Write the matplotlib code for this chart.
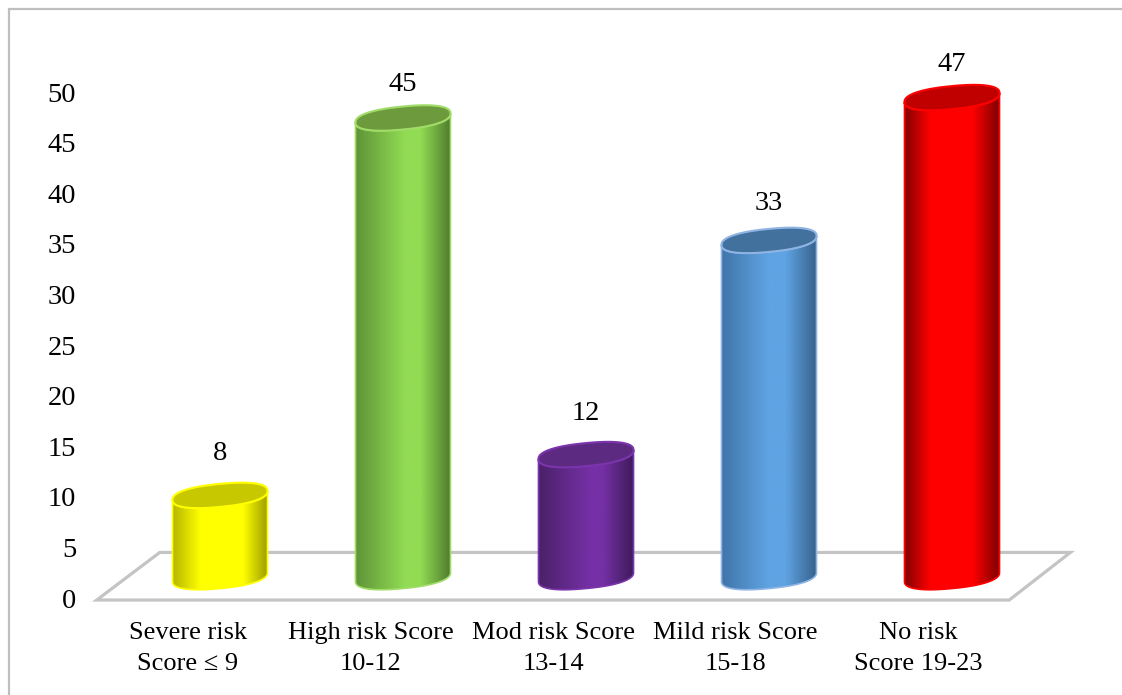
import numpy as np
import matplotlib
matplotlib.use('Agg')
import matplotlib.pyplot as plt
from matplotlib.colors import LinearSegmentedColormap
from matplotlib.patches import Polygon, Rectangle

categories = ['Severe risk\nScore ≤ 9', 'High risk Score\n10-12', 'Mod risk Score\n13-14',
              'Mild risk Score\n15-18', 'No risk\nScore 19-23']
values = [8, 45, 12, 33, 47]
y_ticks = list(range(0, 55, 5))

face_colors = ['#FFFF00', '#92DC54', '#7530A6', '#5FA3E3', '#FF0000']
left_colors = ['#B4B400', '#5F9438', '#4A2168', '#3F74A8', '#800000']
right_colors = ['#A0A000', '#4F7A2C', '#3F1C5C', '#37648F', '#800000']
top_colors = ['#C8C800', '#6C9A3C', '#5C2A80', '#41719C', '#C00000']
edge_colors = ['#FFFF00', '#A0DC68', '#7A34AC', '#8FB4E3', '#FF0000']
peak_start = [0.3, 0.52, 0.55, 0.5, 0.28]
peak_end = [0.75, 0.68, 0.68, 0.68, 0.72]

W, H = 1122, 695
plt.rcParams['font.family'] = ['Liberation Serif', 'DejaVu Serif']

fig = plt.figure(figsize=(W / 100, H / 100), dpi=100, facecolor='white')


def overlay(x0, dx, y0, dy):
    # full-figure axes where index 0 sits at x0 and value 0 at y0 (pixels from top)
    ax = fig.add_axes([0, 0, 1, 1], facecolor='none')
    ax.set_xlim(-x0 / dx, (W - x0) / dx)
    ax.set_ylim((y0 - H) / dy, y0 / dy)
    ax.patch.set_visible(False)
    for s in ax.spines.values():
        s.set_visible(False)
    ax.set_xticks([])
    ax.set_yticks([])
    return ax


# outer frame
fig.add_artist(Rectangle((8.5 / W, -0.02), W, 1 - 8.5 / H + 0.02, transform=fig.transFigure,
                         fill=False, ec='#BFBFBF', lw=1.6))

# floor and axis labels
base_ax = overlay(188, 182.5, 598, 10.12)
base_ax.add_patch(Polygon([(-0.5, -0.2), (4.5, -0.2), (4.835, 4.5), (-0.155, 4.5)], closed=True,
                          fill=False, ec='#C4C4C4', lw=2.3, joinstyle='miter'))
for t in y_ticks:
    base_ax.text(-0.613, t, str(t), ha='right', va='center_baseline', fontsize=20.5)
for i, lab in enumerate(categories):
    base_ax.text(i, -2.35, lab, ha='center', va='top', linespacing=1.55, fontsize=19)

# cylinders
bar_ax = overlay(220, 183, 577, 10.2)
xl, yl = bar_ax.get_xlim(), bar_ax.get_ylim()
a, b, rise = 47.5, 11.5, 4.5


def ring(t):
    # slightly squared ellipse, sheared so the right end sits higher than the left
    c, s = np.cos(t), np.sin(t)
    px = a * np.sign(c) * np.abs(c) ** 0.85
    py = b * np.sign(s) * np.abs(s) ** 0.85 + rise * px / a
    return px / 183, py / 10.2


half = np.linspace(np.pi, 2 * np.pi, 80)
full = np.linspace(0, 2 * np.pi, 160)
for i, v in enumerate(values):
    hx, hy = ring(half)
    outline = np.vstack([np.c_[i + hx, hy], np.c_[i + hx[::-1], v + hy[::-1]]])
    body = Polygon(outline, closed=True, fc='none', ec=edge_colors[i], lw=1.2, zorder=3)
    bar_ax.add_patch(body)
    cmap = LinearSegmentedColormap.from_list('shade', [(0, left_colors[i]), (peak_start[i], face_colors[i]),
                                                       (peak_end[i], face_colors[i]), (1, right_colors[i])])
    half_w = a / 183
    im = bar_ax.imshow(np.linspace(0, 1, 256)[None, :], cmap=cmap, aspect='auto', zorder=2,
                       extent=(i - half_w, i + half_w, -3, v + 3))
    im.set_clip_path(body)
    fx, fy = ring(full)
    bar_ax.add_patch(Polygon(np.c_[i + fx, v + fy], closed=True, fc=top_colors[i],
                             ec=edge_colors[i], lw=1.5, zorder=4))
bar_ax.set_xlim(xl)
bar_ax.set_ylim(yl)

# value labels
label_ax = overlay(220, 183, 529.8, 9.97)
for i, v in enumerate(values):
    label_ax.text(i, v, str(v), ha='center', va='center_baseline', fontsize=20.5)

fig.savefig('out.png', dpi=100)
